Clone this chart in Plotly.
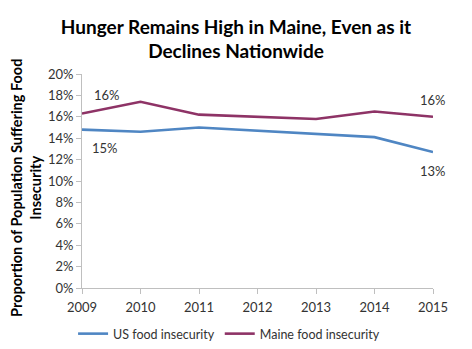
import plotly.graph_objects as go

# Food insecurity rates (percent of population)
years = [2009, 2010, 2011, 2012, 2013, 2014, 2015]
us_rate = [14.8, 14.6, 15.0, 14.7, 14.4, 14.1, 12.7]
maine_rate = [16.3, 17.4, 16.2, 16.0, 15.8, 16.5, 16.0]
y_ticks = [0, 2, 4, 6, 8, 10, 12, 14, 16, 18, 20]

US_COLOR = "#4F86C3"
MAINE_COLOR = "#8E3366"
FONT = "Lato"

fig = go.Figure()
fig.add_trace(go.Scatter(
    x=years, y=us_rate, mode="lines", name="US food insecurity",
    line=dict(color=US_COLOR, width=2.6), cliponaxis=False,
))
fig.add_trace(go.Scatter(
    x=years, y=maine_rate, mode="lines", name="Maine food insecurity",
    line=dict(color=MAINE_COLOR, width=2.6), cliponaxis=False,
))

# Value labels at the first and last year
annos = []
for idx, xshift in ((0, 25), (-1, 0)):
    annos.append(dict(x=years[idx], y=maine_rate[idx], text=f"{round(maine_rate[idx])}%",
                      showarrow=False, xshift=xshift, yshift=19 if idx == 0 else 17,
                      font=dict(family=FONT, size=13, color="#333333")))
    annos.append(dict(x=years[idx], y=us_rate[idx], text=f"{round(us_rate[idx])}%",
                      showarrow=False, xshift=xshift - 2 if idx == 0 else 0,
                      yshift=-18 if idx == 0 else -19,
                      font=dict(family=FONT, size=13, color="#333333")))

# Rotated y-axis title
annos.append(dict(
    xref="paper", yref="paper", x=-0.16, y=0.467, xanchor="center", yanchor="middle",
    text="<b>Proportion of Population Suffering Food<br>Insecurity</b>",
    textangle=-90, showarrow=False,
    font=dict(family=FONT, size=14.5, color="#000000"),
))

fig.update_layout(
    width=472, height=349,
    margin=dict(l=82, r=39, t=74, b=61, autoexpand=False),
    paper_bgcolor="white", plot_bgcolor="white",
    title=dict(
        text="<b>Hunger Remains High in Maine, Even as it<br>Declines Nationwide</b>",
        x=0.5, xanchor="center", y=1 - 33.5 / 349, yanchor="middle", yref="container",
        font=dict(family=FONT, size=19, color="#000000"),
    ),
    showlegend=True,
    legend=dict(
        orientation="h", x=0.419, xanchor="center",
        y=-0.215, yanchor="middle",
        font=dict(family=FONT, size=12.5, color="#333333"),
        itemwidth=30, tracegroupgap=0,
    ),
    annotations=annos,
    font=dict(family=FONT),
)
fig.update_xaxes(
    range=[years[0], years[-1]], tickvals=years, ticktext=[str(y) for y in years],
    showgrid=False, zeroline=False, showline=True, linecolor="#BFBFBF", linewidth=1,
    ticks="outside", ticklen=5, tickcolor="#BFBFBF", ticklabelstandoff=2,
    tickfont=dict(family=FONT, size=13, color="#333333"),
)
fig.update_yaxes(
    range=[0, 20], tickvals=y_ticks, ticktext=[f"{t}%" for t in y_ticks],
    showgrid=False, zeroline=False, showline=True, linecolor="#BFBFBF", linewidth=1,
    ticks="outside", ticklen=5, tickcolor="#BFBFBF",
    tickfont=dict(family=FONT, size=13, color="#333333"),
)

fig.write_html("out.html")
